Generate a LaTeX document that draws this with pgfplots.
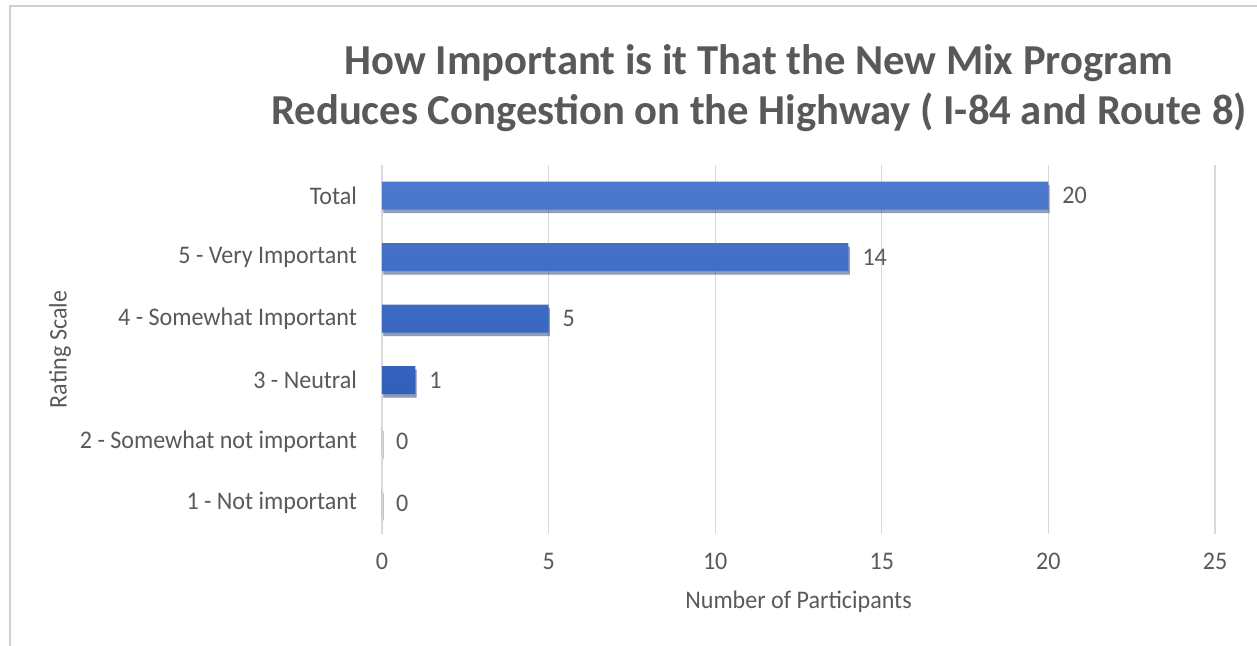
\documentclass[border=0pt]{standalone}
\usepackage{pgfplots}
\pgfplotsset{compat=1.18}
\usepackage{fontspec}
\setmainfont{Carlito}
\newfontfamily\tickfont{Carlito}[FakeStretch=0.95]
\usetikzlibrary{shadows}
\definecolor{txt}{HTML}{595959}
\definecolor{gridc}{HTML}{D9D9D9}
\definecolor{bartop}{HTML}{4C78CE}
\definecolor{barbot}{HTML}{2351AE}
\definecolor{framec}{HTML}{D0D0D0}
\begin{document}
\begin{tikzpicture}
\path[use as bounding box] (0,0) rectangle (942.75pt,484.5pt);
\draw[framec, line width=1.2pt] (7.5pt,0) -- (7.5pt,480pt) -- (942.75pt,480pt);
\node[align=center, text=txt, font=\fontsize{32}{37.5}\selectfont\bfseries] at (569.25pt,418.5pt)
  {How Important is it That the New Mix Program\\Reduces Congestion on the Highway ( I-84 and Route 8)};
\begin{axis}[
  at={(286.5pt,84pt)}, anchor=south west,
  width=624.75pt, height=276.75pt, scale only axis,
  xbar, bar width=21pt,
  xmin=0, xmax=25, ymin=-0.5, ymax=5.5,
  xtick={0,5,...,25},
  ytick={0,1,2,3,4,5},
  yticklabels={1 - Not important, 2 - Somewhat not important, 3 - Neutral, 4 - Somewhat Important, 5 - Very Important, Total},
  xmajorgrids, grid style={gridc, line width=0.9pt},
  axis line style={draw=none},
  tick style={draw=none},
  /pgf/number format/assume math mode=true,
  ticklabel style={text=txt, font=\tickfont\fontsize{19}{22}\selectfont},
  yticklabel style={xshift=-11pt},
  xticklabel style={yshift=-11pt},
  xlabel={Number of Participants},
  ylabel={Rating Scale},
  label style={text=txt, font=\tickfont\fontsize{19}{22}\selectfont},
  xlabel style={at={(axis description cs:0.5,-0.1843)}, anchor=center},
  ylabel style={at={(axis description cs:-0.3866,0.5)}, anchor=center},
  nodes near coords,
  every node near coord/.append style={text=txt, font=\tickfont\fontsize{19}{22}\selectfont, anchor=west, xshift=7pt},
]
\addplot[draw=none, top color=bartop, bottom color=barbot,
  drop shadow={opacity=0.3, fill=black, shadow xshift=1pt, shadow yshift=-2.5pt}]
  coordinates {(0,0) (0,1) (1,2) (5,3) (14,4) (20,5)};
\end{axis}
\end{tikzpicture}
\end{document}
